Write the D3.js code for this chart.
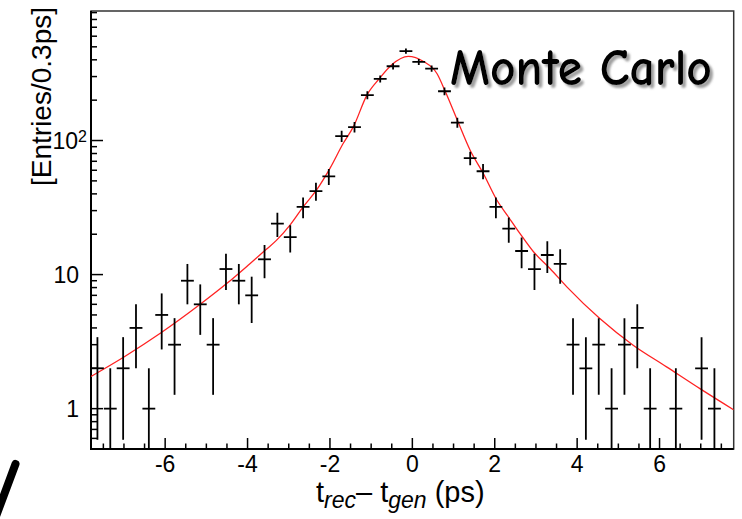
<!DOCTYPE html>
<html>
<head>
<meta charset="utf-8">
<script src="https://cdn.jsdelivr.net/npm/d3@7"></script>
<style>
  html, body { margin: 0; padding: 0; background: #fff; }
  svg { display: block; }
</style>
</head>
<body>
<div id="graphique"></div>
<script>
// histogram : 50 bins between -7.8 and 7.8 ps
const xMin = -7.8, xMax = 7.8
const counts = [2, 1, 2, 4, 1, 5, 3, 9, 6, 3,
                11, 9, 7, 13, 24, 19, 32, 42, 54, 108,
                126, 218, 288, 358, 465, 386, 344, 233, 136, 74,
                59, 32, 22, 15, 11, 14, 12, 3, 2, 3,
                1, 3, 4, 1, 0, 1, 0, 2, 1, 0]

// fitted curve
const fitX = [-7.8, -7.0, -6.1, -5.15, -4.5, -3.95, -3.58, -3.3, -2.97, -2.65, -2.32, -2.0, -1.68, -1.43, -1.1, -0.8, -0.5, -0.1,
              0.27, 0.6, 0.8, 1.12, 1.4, 1.72, 2.05, 2.33, 2.61, 2.94, 3.34, 3.75, 4.55, 5.36, 6.17, 6.98, 7.8]
const fitY = [1.74, 2.43, 3.68, 6.0, 8.6, 12.0, 15.1, 18.0, 23.4, 32, 43, 62, 95, 127, 219, 290, 368, 425,
              389, 315, 232, 135, 85, 57, 36, 27, 20.3, 14.8, 11.1, 8.1, 4.7, 2.97, 2.05, 1.41, 0.98]

// axes
const xMajor = [-6, -4, -2, 0, 2, 4, 6]
const yMajor = [1, 10, 100]
const yLabels = ["1", "10", "10"]

// Dimension du graph
const W = 742, H = 519
let frame = { left: 91, right: 733.7, top: 11, bottom: 449 }

const svg = d3.select("#graphique")
    .append("svg")
    .attr("width", W)
    .attr("height", H)

const font = "'Liberation Sans', Arial, Helvetica, sans-serif"

let x = d3.scaleLinear()
    .domain([xMin, xMax])
    .range([frame.left, frame.right])

let y = d3.scaleLog()
    .domain([0.5, 925])
    .range([frame.bottom, frame.top])

const defs = svg.append("defs")
defs.append("clipPath").attr("id", "zone")
    .append("rect")
    .attr("x", frame.left).attr("y", frame.top)
    .attr("width", frame.right - frame.left).attr("height", frame.bottom - frame.top)
defs.append("filter").attr("id", "ombre")
    .attr("x", "-10%").attr("y", "-20%").attr("width", "130%").attr("height", "160%")
    .append("feDropShadow")
    .attr("dx", 3).attr("dy", 3).attr("stdDeviation", 1)
    .attr("flood-color", "#888").attr("flood-opacity", 0.8)

// cadre
svg.append("rect")
    .attr("x", frame.left).attr("y", frame.top)
    .attr("width", frame.right - frame.left).attr("height", frame.bottom - frame.top)
    .attr("fill", "none")
    .attr("stroke", "#333")
    .attr("stroke-width", 1.5)

// ticks x (inside, pointing up)
const xMinor = d3.range(-7.5, 7.51, 0.5)
svg.append("g")
    .selectAll("line")
    .data(xMinor)
    .enter()
    .append("line")
    .attr("x1", d => x(d)).attr("x2", d => x(d))
    .attr("y1", frame.bottom)
    .attr("y2", d => xMajor.includes(d) ? frame.bottom - 11 : frame.bottom - 5.5)
    .attr("stroke", "#000")
    .attr("stroke-width", 1.5)

svg.append("g")
    .selectAll("text")
    .data(xMajor)
    .enter()
    .append("text")
    .attr("x", d => x(d))
    .attr("y", 472)
    .attr("text-anchor", "middle")
    .attr("font-family", font)
    .attr("font-size", 23)
    .text(d => d)

// ticks y (log)
let yMinor = []
;[0.1, 1, 10, 100].forEach(dec => {
    for (let k = 1; k <= 9; k++) {
        const v = dec * k
        if (v >= 0.5 && v <= 925) yMinor.push(v)
    }
})
svg.append("g")
    .selectAll("line")
    .data(yMinor)
    .enter()
    .append("line")
    .attr("x1", frame.left)
    .attr("x2", d => yMajor.includes(Math.round(d * 1000) / 1000) ? frame.left + 12 : frame.left + 6)
    .attr("y1", d => y(d)).attr("y2", d => y(d))
    .attr("stroke", "#000")
    .attr("stroke-width", 1.5)

yMajor.forEach((v, i) => {
    let t = svg.append("text")
        .attr("x", i == 2 ? 87 : 79)
        .attr("y", y(v) + 8.3)
        .attr("text-anchor", "end")
        .attr("font-family", font)
        .attr("font-size", 23)
    t.append("tspan").text(yLabels[i])
    if (i == 2) {
        t.append("tspan").attr("font-size", 16).attr("dy", -7).text("2")
    }
})

// axis lines
svg.append("line")
    .attr("x1", frame.left).attr("x2", frame.left).attr("y1", frame.top).attr("y2", frame.bottom + 1)
    .attr("stroke", "#000").attr("stroke-width", 2)
svg.append("line")
    .attr("x1", frame.left - 1).attr("x2", frame.right).attr("y1", frame.bottom).attr("y2", frame.bottom)
    .attr("stroke", "#000").attr("stroke-width", 2)

// fit
const fit = fitX.map((d, i) => ({ x: d, y: fitY[i] }))
svg.append("path")
    .datum(fit)
    .attr("clip-path", "url(#zone)")
    .attr("fill", "none")
    .attr("stroke", "#f22")
    .attr("stroke-width", 1.3)
    .attr("d", d3.line().x(d => x(d.x)).y(d => y(d.y)).curve(d3.curveMonotoneX))

// points + errors
const bw = (xMax - xMin) / counts.length
const bins = counts.map((n, i) => ({ lo: xMin + i * bw, hi: xMin + (i + 1) * bw, n: n }))
    .filter(d => d.n > 0)

let pts = svg.append("g")
    .attr("clip-path", "url(#zone)")
    .attr("stroke", "#000")
    .attr("stroke-width", 1.8)

pts.selectAll(".h")
    .data(bins)
    .enter()
    .append("line")
    .attr("class", "h")
    .attr("x1", d => x(d.lo)).attr("x2", d => x(d.hi))
    .attr("y1", d => y(d.n)).attr("y2", d => y(d.n))

pts.selectAll(".v")
    .data(bins)
    .enter()
    .append("line")
    .attr("class", "v")
    .attr("x1", d => x((d.lo + d.hi) / 2)).attr("x2", d => x((d.lo + d.hi) / 2))
    .attr("y1", d => y(d.n + Math.sqrt(d.n)))
    .attr("y2", d => d.n - Math.sqrt(d.n) > 0.5 ? y(d.n - Math.sqrt(d.n)) : frame.bottom)

// titres
svg.append("text")
    .attr("transform", "translate(51,7) rotate(-90)")
    .attr("text-anchor", "end")
    .attr("font-family", font)
    .attr("font-size", 28)
    .text("[Entries/0.3ps]")

let xt = svg.append("text")
    .attr("x", 316)
    .attr("y", 502)
    .attr("font-family", font)
    .attr("font-size", 29)
xt.append("tspan").text("t")
xt.append("tspan").attr("font-size", 23).attr("font-style", "italic").attr("dy", 6).text("rec")
xt.append("tspan").attr("dy", -6).text("\u2013 t")
xt.append("tspan").attr("font-size", 23).attr("font-style", "italic").attr("dy", 6).text("gen")
xt.append("tspan").attr("dy", -6).text(" (ps)")

// Monte Carlo label with shadow
const mcFont = "'Comic Sans MS', 'Comic Neue', 'Open Sans', sans-serif"
svg.append("text")
    .attr("x", 450).attr("y", 85)
    .attr("font-family", mcFont)
    .attr("font-size", 52)
    .attr("font-weight", 600)
    .attr("textLength", 262)
    .attr("lengthAdjust", "spacingAndGlyphs")
    .attr("fill", "#000")
    .attr("filter", "url(#ombre)")
    .text("Monte Carlo")

// black stroke in the bottom-left corner
svg.append("line")
    .attr("x1", 15.5).attr("y1", 464)
    .attr("x2", -5).attr("y2", 519)
    .attr("stroke", "#000")
    .attr("stroke-width", 8)
    .attr("stroke-linecap", "round")
</script>
</body>
</html>
